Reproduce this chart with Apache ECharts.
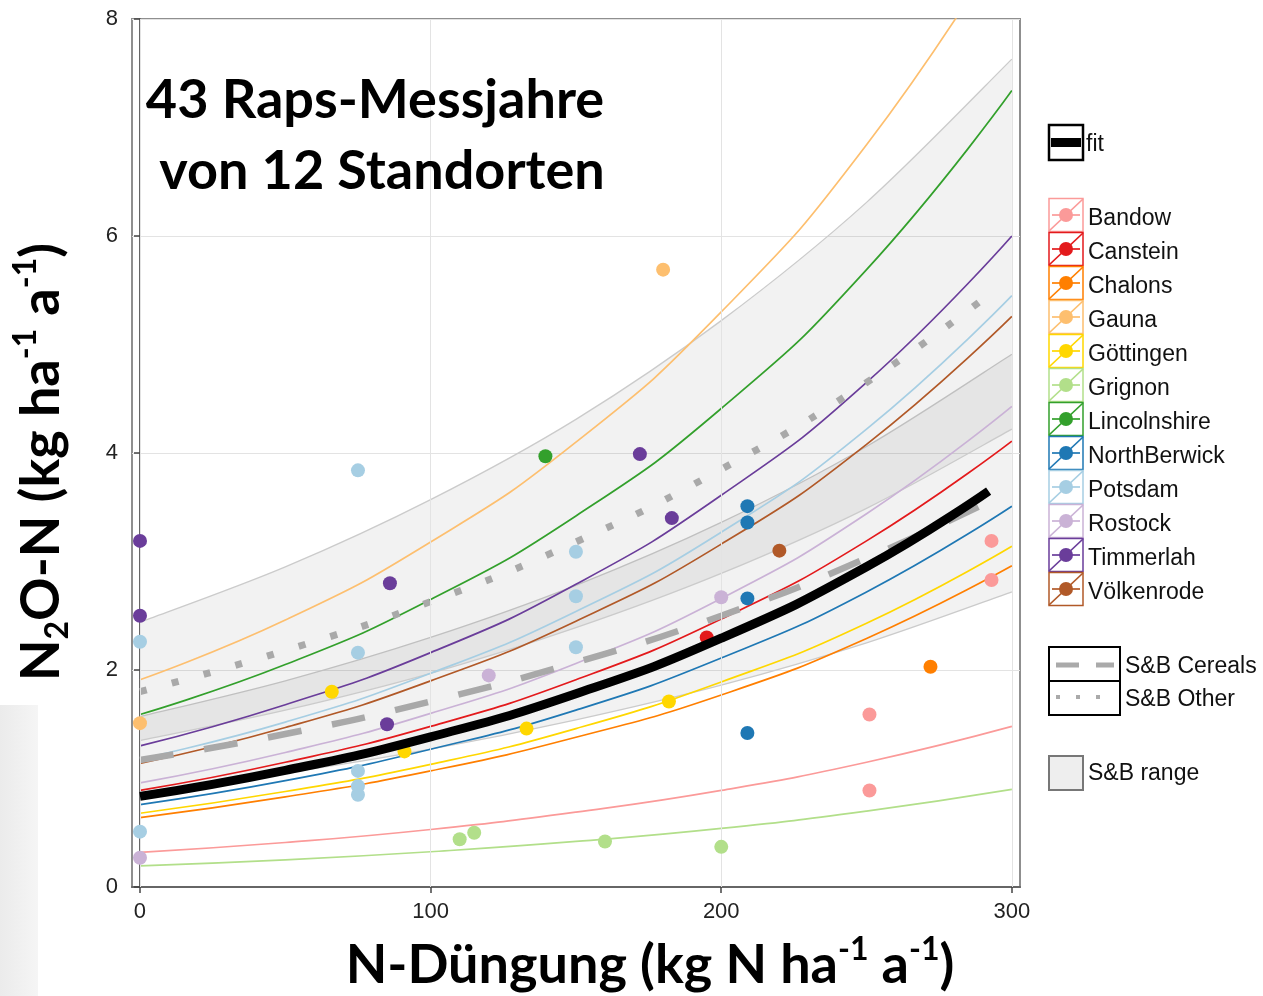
<!DOCTYPE html>
<html><head><meta charset="utf-8">
<script src="https://cdn.jsdelivr.net/npm/echarts@6/dist/echarts.min.js"></script>
<style>html,body{margin:0;padding:0;background:#fff}#c{width:1263px;height:996px}</style>
</head><body><div id="c"></div>
<script>
// ---------- data ----------
const xTicks = [0, 100, 200, 300];
const yTicks = [0, 2, 4, 6, 8];

const curveX = [0, 50, 100, 150, 200, 250, 300];
const fitX   = [0, 50, 100, 150, 200, 250, 292];
const sbX    = [0, 50, 100, 150, 200, 250, 295];
const bandX  = [0, 50, 100, 150, 200, 250, 300];

const sites = ['Bandow','Canstein','Chalons','Gauna','Göttingen','Grignon','Lincolnshire','NorthBerwick','Potsdam','Rostock','Timmerlah','Völkenrode'];
const siteColors = ['#fb9a99','#e31a1c','#ff7f00','#fdbf6f','#ffd700','#b2df8a','#33a02c','#1f78b4','#a6cee3','#cab2d6','#6a3d9a','#b15928'];

const bandowCurve      = [0.32, 0.41, 0.53, 0.69, 0.89, 1.15, 1.48];
const cansteinCurve    = [0.89, 1.15, 1.48, 1.91, 2.47, 3.19, 4.11];
const chalonsCurve     = [0.64, 0.83, 1.07, 1.38, 1.77, 2.29, 2.96];
const gaunaCurve       = [1.91, 2.46, 3.18, 4.10, 5.30, 6.84, 8.82];
const goettingenCurve  = [0.68, 0.88, 1.13, 1.46, 1.89, 2.43, 3.14];
const grignonCurve     = [0.195, 0.25, 0.325, 0.42, 0.54, 0.70, 0.90];
const lincolnshireCurve= [1.59, 2.05, 2.65, 3.42, 4.41, 5.69, 7.34];
const northberwickCurve= [0.76, 0.98, 1.27, 1.63, 2.11, 2.72, 3.51];
const potsdamCurve     = [1.18, 1.52, 1.97, 2.54, 3.27, 4.22, 5.45];
const rostockCurve     = [0.96, 1.24, 1.60, 2.06, 2.66, 3.44, 4.43];
const timmerlahCurve   = [1.30, 1.68, 2.16, 2.79, 3.61, 4.65, 6.00];
const voelkenrodeCurve = [1.14, 1.47, 1.90, 2.45, 3.16, 4.08, 5.26];

const bandowPts       = [[251,1.59],[251,0.89],[293,3.19],[293,2.83]];
const cansteinPts     = [[195,2.30]];
const chalonsPts      = [[272,2.03]];
const gaunaPts        = [[0,1.51],[180,5.69]];
const goettingenPts   = [[66,1.80],[91,1.25],[133,1.46],[182,1.71]];
const grignonPts      = [[110,0.44],[115,0.50],[160,0.42],[200,0.37]];
const lincolnshirePts = [[139.5,3.97]];
const northberwickPts = [[209,3.51],[209,3.36],[209,2.66],[209,1.42]];
const potsdamPts      = [[0,2.26],[0,0.51],[75,3.84],[75,2.16],[75,1.07],[75,0.93],[75,0.85],[150,3.09],[150,2.68],[150,2.21]];
const rostockPts      = [[0,0.27],[120,1.95],[200,2.67]];
const timmerlahPts    = [[0,3.19],[0,2.50],[86,2.80],[85,1.50],[172,3.99],[183,3.40]];
const voelkenrodePts  = [[220,3.10]];

const fitCurve      = [0.835, 1.075, 1.384, 1.781, 2.293, 2.951, 3.649];
const sbCerealsLine = [1.17, 1.41, 1.71, 2.07, 2.50, 3.03, 3.59];
const sbOtherLine   = [1.80, 2.18, 2.63, 3.18, 3.85, 4.65, 5.52];

const cerealsLow  = [0.87, 1.05, 1.27, 1.54, 1.86, 2.25, 2.72];
const cerealsHigh = [1.57, 1.90, 2.30, 2.78, 3.36, 4.06, 4.91];
const otherLow    = [1.35, 1.63, 1.97, 2.39, 2.89, 3.49, 4.22];
const otherHigh   = [2.44, 2.95, 3.57, 4.31, 5.22, 6.31, 7.63];

const siteCurves = [bandowCurve,cansteinCurve,chalonsCurve,gaunaCurve,goettingenCurve,grignonCurve,lincolnshireCurve,northberwickCurve,potsdamCurve,rostockCurve,timmerlahCurve,voelkenrodeCurve];
const sitePoints = [bandowPts,cansteinPts,chalonsPts,gaunaPts,goettingenPts,grignonPts,lincolnshirePts,northberwickPts,potsdamPts,rostockPts,timmerlahPts,voelkenrodePts];

// ---------- build ----------
const pair = (xs, ys) => xs.map((x, i) => [x, ys[i]]);
const series = [];

function curvePath(pts, move){
  let d = (move ? 'M' : 'L') + pts[0][0] + ' ' + pts[0][1];
  for (let i = 0; i < pts.length - 1; i++){
    const p0 = pts[i-1] || pts[i], p1 = pts[i], p2 = pts[i+1], p3 = pts[i+2] || pts[i+1];
    const c1x = p1[0] + (p2[0]-p0[0])/6, c1y = p1[1] + (p2[1]-p0[1])/6;
    const c2x = p2[0] - (p3[0]-p1[0])/6, c2y = p2[1] - (p3[1]-p1[1])/6;
    d += 'C' + c1x + ' ' + c1y + ' ' + c2x + ' ' + c2y + ' ' + p2[0] + ' ' + p2[1];
  }
  return d;
}
function band(low, high){
  series.push({type:'custom', silent:true, z:1, clip:true,
    data: bandX.map((x,i)=>[x, low[i], high[i]]),
    encode:{x:0, y:[1,2]},
    renderItem:(params, api) => {
      if (params.dataIndex !== 0) return null;
      const up = bandX.map((x,i)=>api.coord([x, high[i]]));
      const lo = bandX.map((x,i)=>api.coord([x, low[i]]));
      const fillD = curvePath(up, true) + curvePath(lo.slice().reverse(), false) + 'Z';
      return {type:'group', children:[
        {type:'path', shape:{pathData:fillD}, style:{fill:'rgba(0,0,0,0.05)', stroke:null}},
        {type:'path', shape:{pathData:curvePath(up, true)}, style:{fill:null, stroke:'#cbcbcb', lineWidth:1.3}},
        {type:'path', shape:{pathData:curvePath(lo, true)}, style:{fill:null, stroke:'#cbcbcb', lineWidth:1.3}}
      ]};
    }});
}
band(cerealsLow, cerealsHigh);
band(otherLow, otherHigh);

// vertical grid lines
series.push({type:'line', data:[], silent:true, z:1,
  markLine:{silent:true, symbol:'none', label:{show:false}, lineStyle:{color:'#e3e3e3', width:1, type:'solid'},
    data: xTicks.map(v => ({xAxis:v}))}});

sites.forEach((name, i) => {
  series.push({type:'line', name, data:pair(curveX, siteCurves[i]), smooth:true, showSymbol:false, silent:true,
    lineStyle:{color:siteColors[i], width:1.7}, z:3});
});
series.push({type:'line', name:'S&B Cereals', data:pair(sbX, sbCerealsLine), smooth:true, showSymbol:false, silent:true,
  lineStyle:{color:'#a9a9a9', width:6.5, type:[34,31], cap:'butt'}, z:4});
series.push({type:'line', name:'S&B Other', data:pair(sbX, sbOtherLine), smooth:true, showSymbol:false, silent:true,
  lineStyle:{color:'#a9a9a9', width:7, type:[7,26], cap:'butt'}, z:4});
sites.forEach((name, i) => {
  series.push({type:'scatter', name, data:sitePoints[i], symbol:'circle', symbolSize:14, silent:true,
    itemStyle:{color:siteColors[i], opacity:1}, z:5});
});
series.push({type:'line', name:'fit', data:pair(fitX, fitCurve), smooth:true, showSymbol:false, silent:true,
  lineStyle:{color:'#000', width:9, cap:'butt'}, z:6});

// ---------- graphics (titles, legend) ----------
const g = [];
g.push({type:'rect', shape:{x:0,y:705,width:38,height:291}, silent:true,
  style:{fill:new echarts.graphic.LinearGradient(0,0,1,0,[{offset:0,color:'#ebebeb'},{offset:1,color:'#f5f5f5'}])}});
const titleFont = {fontFamily:'Lato', fontWeight:'bold', fontSize:54, fill:'#000'};
g.push({type:'text', x:375, y:101, style:Object.assign({text:'43 Raps-Messjahre', align:'center', verticalAlign:'middle'}, titleFont), z:100});
g.push({type:'text', x:382, y:172, style:Object.assign({text:'von 12 Standorten', align:'center', verticalAlign:'middle'}, titleFont), z:100});

const richT = {
  b:{fontFamily:'Lato', fontWeight:'bold', fontSize:54, lineHeight:64, fill:'#000'},
  sup:{fontFamily:'Lato', fontWeight:'bold', fontSize:32, lineHeight:38, verticalAlign:'top', fill:'#000'},
  sub:{fontFamily:'Lato', fontWeight:'bold', fontSize:32, lineHeight:38, verticalAlign:'bottom', fill:'#000'}
};
g.push({type:'text', x:650, y:966, style:{text:'{b|N-Düngung (kg N ha}{sup|-1}{b| a}{sup|-1}{b|)}', rich:richT, align:'center', verticalAlign:'middle'}});
g.push({type:'text', x:42, y:462, rotation:Math.PI/2, style:{text:'{b|N}{sub|2}{b|O-N (kg ha}{sup|-1}{b| a}{sup|-1}{b|)}', rich:richT, align:'center', verticalAlign:'middle'}});

const lf = {fontFamily:'Liberation Sans', fontSize:23, fill:'#111', verticalAlign:'middle', align:'left'};
// fit legend
g.push({type:'rect', shape:{x:1049,y:125,width:34,height:35}, style:{fill:'#fff', stroke:'#000', lineWidth:2.5}});
g.push({type:'line', shape:{x1:1051,y1:142.5,x2:1081,y2:142.5}, style:{stroke:'#000', lineWidth:9}});
g.push({type:'text', x:1086, y:145, style:Object.assign({text:'fit'}, lf)});
sites.forEach((name, i) => {
  const y0 = 198 + 34*i, c = siteColors[i];
  g.push({type:'rect', shape:{x:1049,y:y0+0.5,width:34,height:33}, style:{fill:'#fff', stroke:c, lineWidth:1.5}});
  g.push({type:'line', shape:{x1:1049,y1:y0+33,x2:1083,y2:y0+1}, style:{stroke:c, lineWidth:1.7}});
  g.push({type:'line', shape:{x1:1052,y1:y0+17,x2:1080,y2:y0+17}, style:{stroke:c, lineWidth:1.7}});
  g.push({type:'circle', shape:{cx:1066,cy:y0+17,r:7}, style:{fill:c}});
  g.push({type:'text', x:1088, y:y0+21, style:Object.assign({text:name}, lf)});
});
g.push({type:'rect', shape:{x:1049,y:647,width:71,height:68}, style:{fill:'#fff', stroke:'#000', lineWidth:2}});
g.push({type:'line', shape:{x1:1049,y1:681,x2:1120,y2:681}, style:{stroke:'#000', lineWidth:2}});
g.push({type:'line', shape:{x1:1056,y1:665,x2:1114,y2:665}, style:{stroke:'#aaa', lineWidth:5, lineDash:[23,17]}});
g.push({type:'line', shape:{x1:1056,y1:697,x2:1114,y2:697}, style:{stroke:'#aaa', lineWidth:4, lineDash:[4,16]}});
g.push({type:'text', x:1125, y:667, style:Object.assign({text:'S&B Cereals'}, lf)});
g.push({type:'text', x:1125, y:700, style:Object.assign({text:'S&B Other'}, lf)});
g.push({type:'rect', shape:{x:1049,y:756,width:34,height:34}, style:{fill:'#eeeeee', stroke:'#777', lineWidth:2}});
g.push({type:'text', x:1088, y:774, style:Object.assign({text:'S&B range'}, lf)});

const axisFont = {fontFamily:'Liberation Sans', fontSize:22, color:'#222'};
const chart = echarts.init(document.getElementById('c'), null, {renderer:'canvas'});
chart.setOption({
  animation:false,
  backgroundColor:'#fff',
  grid:{left:132, right:243, top:19, bottom:109, show:true, borderColor:'#8f8f8f', borderWidth:2, backgroundColor:'#fff'},
  xAxis:{type:'value', min:-2.75, max:302.8,
    axisLine:{show:true, onZero:false, lineStyle:{color:'#666', width:2}},
    axisTick:{show:true, length:6, customValues:xTicks, lineStyle:{color:'#444', width:1.5}},
    axisLabel:Object.assign({margin:14, customValues:xTicks}, axisFont),
    splitLine:{show:false}},
  yAxis:{type:'value', min:0, max:8, interval:2,
    axisLine:{show:true, lineStyle:{color:'#666', width:2}},
    axisTick:{show:true, length:6, lineStyle:{color:'#444', width:1.5}},
    axisLabel:Object.assign({margin:14, customValues:yTicks}, axisFont),
    splitLine:{show:true, lineStyle:{color:'#e3e3e3', width:1}}},
  series,
  graphic:g
});
</script></body></html>
